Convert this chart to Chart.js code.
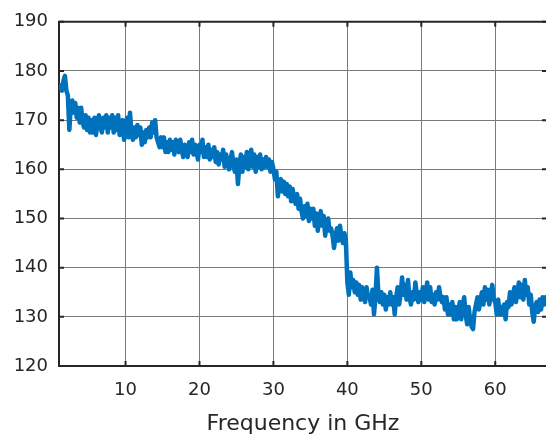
<!DOCTYPE html>
<html>
<head>
<meta charset="utf-8">
<script src="https://cdn.jsdelivr.net/npm/chart.js@4/dist/chart.umd.min.js"></script>
<style>
  html, body { margin: 0; padding: 0; background: #fff; overflow: hidden; }
  #wrap { width: 547px; height: 439px; }
</style>
</head>
<body>
<div id="wrap"><canvas id="chart"></canvas></div>
<script>
// sweep grid of the measurement (GHz)
const freqStart = 1
const freqStep = 0.2

// measured values, 10 samples (2 GHz) per row
const values = [
  176.5, 177, 176, 178, 179, 176, 175, 168, 173, 174,
  171.5, 173.5, 170.5, 172.5, 169.5, 172.5, 169.5, 168.5, 171, 168,
  170.5, 167.5, 170, 167.5, 170.5, 167, 169.5, 171, 168.5, 167.5,
  170.5, 168.5, 171, 167.5, 170.5, 168.5, 171, 167.5, 170.5, 168,
  171, 167, 169.5, 170, 166, 168, 170.5, 166.5, 171.5, 167.5,
  166, 168.5, 166.5, 169, 167, 168.5, 165, 167.5, 165.5, 168,
  166.5, 168.5, 166.5, 169.5, 167.5, 170, 166.5, 165.5, 164.5, 166.5,
  164.5, 166.5, 163.5, 165.5, 163.5, 166, 164, 165.5, 163, 166,
  164.5, 163.5, 166, 164, 162.5, 165, 163.5, 162.5, 165.5, 163.5,
  166, 163, 165, 163.5, 162, 165, 163.5, 166, 162.5, 164.5,
  162.5, 165, 162, 164, 162.5, 164.5, 161.5, 163.5, 161, 163,
  162, 164, 160.5, 163, 161.5, 160, 162, 163.5, 160.5, 159.5,
  162, 157, 161, 163, 159.5, 162.5, 160.5, 163.5, 160, 162,
  164, 160.5, 163, 159.5, 162.5, 160.5, 163, 160, 162, 160.5,
  162.5, 160.5, 162, 159.5, 161.5, 160, 158, 159.5, 154.5, 157,
  158, 155.5, 157.5, 155, 157, 154.5, 156.5, 153.5, 156, 154,
  153, 155, 152, 154, 151.5, 150, 152.5, 150.5, 153, 149.5,
  152, 150, 152, 148.5, 151, 147.5, 150, 151.5, 148.5, 150.5,
  146.5, 149, 150, 147.5, 148, 146.5, 144, 146.5, 148, 145.5,
  148.5, 146.5, 145, 147, 145.5, 137, 134.5, 139, 136, 137.5,
  135, 137, 134.5, 136.5, 133.5, 136, 134.5, 133, 136, 134,
  134, 132.5, 135.5, 130.5, 134, 140, 134.5, 133, 135, 132.5,
  134.5, 131.5, 134, 132.5, 135, 132.5, 134, 130.5, 134, 136,
  132.5, 134.5, 138, 134.5, 136.5, 133.5, 137.5, 134, 132.5, 135,
  133.5, 137, 134.5, 133, 135, 133.5, 136, 133, 135, 137,
  133.5, 136, 133, 134.5, 132.5, 135, 133.5, 136, 134, 133,
  134, 131.5, 134, 130.5, 132.5, 130.5, 133, 129.5, 132, 129.5,
  131, 133, 129.5, 132.5, 134, 130.5, 128.5, 132, 129.5, 128,
  127.5, 131, 132.5, 134, 131.5, 133.5, 135, 132.5, 136, 133.5,
  135.5, 132.5, 134.5, 136.5, 133.5, 133, 130.5, 133.5, 130.5, 132,
  130.5, 132.5, 129.5, 133, 132, 135, 132.5, 134.5, 136, 133,
  135, 137, 134, 136.5, 133.5, 137.5, 134.5, 136, 132.5, 134.5,
  131, 129, 132, 133, 131, 133.5, 131.5, 134, 132.5, 134
]

const xTicks = [10, 20, 30, 40, 50, 60]
const yTicks = [120, 130, 140, 150, 160, 170, 180, 190]

const points = values.map((v, i) => ({ x: freqStart + i * freqStep, y: v }))

const axisColor = '#262626'
const gridColor = '#7a7a7a'
const fontFamily = 'DejaVu Sans, Arial, sans-serif'

// box on top/right and inward tick marks, like the original plot
const boxPlugin = {
  id: 'box',
  afterDraw(chart) {
    const { ctx, chartArea: a, scales } = chart
    ctx.save()
    ctx.strokeStyle = axisColor
    ctx.lineWidth = 2
    ctx.beginPath()
    ctx.moveTo(a.left - 1, a.top)
    ctx.lineTo(a.right, a.top)
    ctx.lineTo(a.right, a.bottom)
    ctx.stroke()
    ctx.beginPath()
    for (const t of xTicks) {
      const px = scales.x.getPixelForValue(t)
      ctx.moveTo(px, a.top); ctx.lineTo(px, a.top + 5)
      ctx.moveTo(px, a.bottom); ctx.lineTo(px, a.bottom - 5)
    }
    for (const t of yTicks) {
      const py = scales.y.getPixelForValue(t)
      ctx.moveTo(a.left, py); ctx.lineTo(a.left + 5, py)
      ctx.moveTo(a.right, py); ctx.lineTo(a.right - 5, py)
    }
    ctx.stroke()
    ctx.restore()
  }
}

const ctx = document.getElementById('chart')
new Chart(ctx, {
  type: 'line',
  data: {
    datasets: [{
      data: points,
      borderColor: '#0072BD',
      borderWidth: 4.5,
      borderJoinStyle: 'round',
      borderCapStyle: 'round',
      pointRadius: 0,
      tension: 0,
      fill: false
    }]
  },
  options: {
    responsive: true,
    maintainAspectRatio: false,
    animation: false,
    devicePixelRatio: 1,
    layout: { padding: { top: 11, left: 0, right: 0, bottom: 0 } },
    plugins: { legend: { display: false }, tooltip: { enabled: false } },
    scales: {
      x: {
        type: 'linear',
        min: 1,
        max: 67,
        afterBuildTicks: (s) => { s.ticks = xTicks.map(v => ({ value: v })) },
        afterFit: (s) => { s.height = 73 },
        grid: { color: gridColor, lineWidth: 1, drawTicks: false },
        border: { color: axisColor, width: 2 },
        ticks: {
          color: axisColor,
          padding: 14,
          maxRotation: 0,
          font: { family: fontFamily, size: 18 }
        },
        title: {
          display: true,
          text: 'Frequency in GHz',
          color: axisColor,
          padding: { top: 0, bottom: 2 },
          font: { family: fontFamily, size: 22 }
        }
      },
      y: {
        min: 120,
        max: 190,
        afterBuildTicks: (s) => { s.ticks = yTicks.map(v => ({ value: v })) },
        afterFit: (s) => { s.width = 59 },
        grid: { color: gridColor, lineWidth: 1, drawTicks: false },
        border: { color: axisColor, width: 2 },
        ticks: {
          color: axisColor,
          padding: 11,
          font: { family: fontFamily, size: 18 }
        }
      }
    }
  },
  plugins: [boxPlugin]
})
</script>
</body>
</html>
